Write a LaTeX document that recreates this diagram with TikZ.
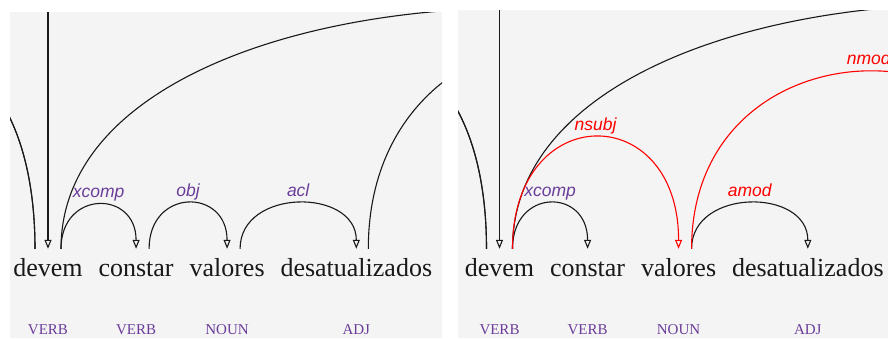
\documentclass[tikz,border=0pt]{standalone}
\usepackage{fontspec}
\setmainfont{Liberation Serif}
\setsansfont{Liberation Sans}
\usetikzlibrary{arrows.meta, positioning}
\definecolor{panelgray}{RGB}{244,244,244}
\definecolor{tagpurple}{RGB}{106,61,154}
\definecolor{diffred}{RGB}{255,0,0}

\begin{document}
\begin{tikzpicture}[
  x=1pt, y=-1pt,
  node distance=15.5pt,
  word/.style={
    font=\fontsize{26}{30}\selectfont, text=black!90,
    inner sep=0pt, text height=27pt, text depth=6pt, anchor=base
  },
  postag/.style={font=\fontsize{15}{18}\selectfont, text=tagpurple, inner sep=0pt, anchor=base},
  deplab/.style={
    font=\sffamily\itshape\fontsize{17.5}{20}\selectfont, text=tagpurple,
    inner sep=0pt, anchor=base, yshift=7pt
  },
  deparc/.style={draw=black!90, line width=1.1pt, -{Triangle[open, length=9pt, width=7pt]}},
  redarc/.style={deparc, draw=diffred},
  redlab/.style={deplab, text=diffred}
]
  \useasboundingbox (0,0) rectangle (888,338);

  % Painel esquerdo
  \begin{scope}
    \clip (10,12) rectangle (442,338);
    \fill[panelgray] (10,12) rectangle (442,338);

    \node[word] (devem) at (48,276) {devem};
    \node[word, base right=of devem] (constar) {constar};
    \node[word, base right=of constar] (valores) {valores};
    \node[word, base right=of valores] (desat) {desatualizados};

    \node[postag] (tdevem) at (devem.base |- 0,334) {VERB};
    \node[postag] (tconstar) at (constar.base |- 0,334) {VERB};
    \node[postag] (tvalores) at (valores.base |- 0,334) {NOUN};
    \node[postag] (tdesat) at (desat.base |- 0,334) {ADJ};

    % pontas fora do painel
    \coordinate (rootl) at (devem.north |- 0,0);
    \coordinate (farla) at (-200,249);
    \coordinate (farlb) at (-160,249);
    \coordinate (farlc) at (971,249);
    \coordinate (farld) at (777,249);

    \draw[deparc] (rootl) -- (devem.north);
    \draw[deparc] ([xshift=-13pt]devem.north) .. controls +(0,-270) and +(0,-270) .. (farla);
    \draw[deparc] ([xshift=-13pt]devem.north) .. controls +(0,-250) and +(0,-250) .. (farlb);
    \draw[deparc] ([xshift=13pt]devem.north) .. controls +(0,-320) and +(0,-320) .. (farlc);
    \draw[deparc] ([xshift=12pt]desat.north) .. controls +(0,-280) and +(0,-280) .. (farld);

    \draw[deparc] ([xshift=13pt]devem.north) .. controls +(0,-59) and +(0,-59) .. (constar.north)
      node[deplab, pos=0.5] {xcomp};
    \draw[deparc] ([xshift=13pt]constar.north) .. controls +(0,-61) and +(0,-61) .. (valores.north)
      node[deplab, pos=0.5] {obj};
    \draw[deparc] ([xshift=13pt]valores.north) .. controls +(0,-61) and +(0,-61) .. (desat.north)
      node[deplab, pos=0.5] {acl};
  \end{scope}

  % Painel direito
  \begin{scope}
    \clip (458,10) rectangle (888,338);
    \fill[panelgray] (458,10) rectangle (888,338);

    \node[word] (devem2) at (499.5,276) {devem};
    \node[word, base right=of devem2] (constar2) {constar};
    \node[word, base right=of constar2] (valores2) {valores};
    \node[word, base right=of valores2] (desat2) {desatualizados};

    \node[postag] (tdevem2) at (devem2.base |- 0,334) {VERB};
    \node[postag] (tconstar2) at (constar2.base |- 0,334) {VERB};
    \node[postag] (tvalores2) at (valores2.base |- 0,334) {NOUN};
    \node[postag] (tdesat2) at (desat2.base |- 0,334) {ADJ};

    % pontas fora do painel
    \coordinate (rootr) at (devem2.north |- 0,0);
    \coordinate (farra) at (251,249);
    \coordinate (farrb) at (291,249);
    \coordinate (farrc) at (1422,249);
    \coordinate (farrd) at (1046,249);

    \draw[deparc] (rootr) -- (devem2.north);
    \draw[deparc] ([xshift=-13pt]devem2.north) .. controls +(0,-270) and +(0,-270) .. (farra);
    \draw[deparc] ([xshift=-13pt]devem2.north) .. controls +(0,-250) and +(0,-250) .. (farrb);
    \draw[deparc] ([xshift=13pt]devem2.north) .. controls +(0,-325) and +(0,-325) .. (farrc);

    \draw[deparc] ([xshift=13pt]devem2.north) .. controls +(0,-61) and +(0,-61) .. (constar2.north)
      node[deplab, pos=0.5] {xcomp};
    \draw[redarc] ([xshift=13pt]devem2.north) .. controls +(0,-149) and +(0,-149) .. (valores2.north)
      node[redlab, pos=0.5] {nsubj};
    \draw[deparc] ([xshift=13pt]valores2.north) .. controls +(0,-61) and +(0,-61) .. (desat2.north)
      node[redlab, pos=0.5] {amod};
    \draw[redarc] ([xshift=13pt]valores2.north) .. controls +(0,-236) and +(0,-236) .. (farrd)
      node[redlab, pos=0.5] {nmod};
  \end{scope}

\end{tikzpicture}
\end{document}
